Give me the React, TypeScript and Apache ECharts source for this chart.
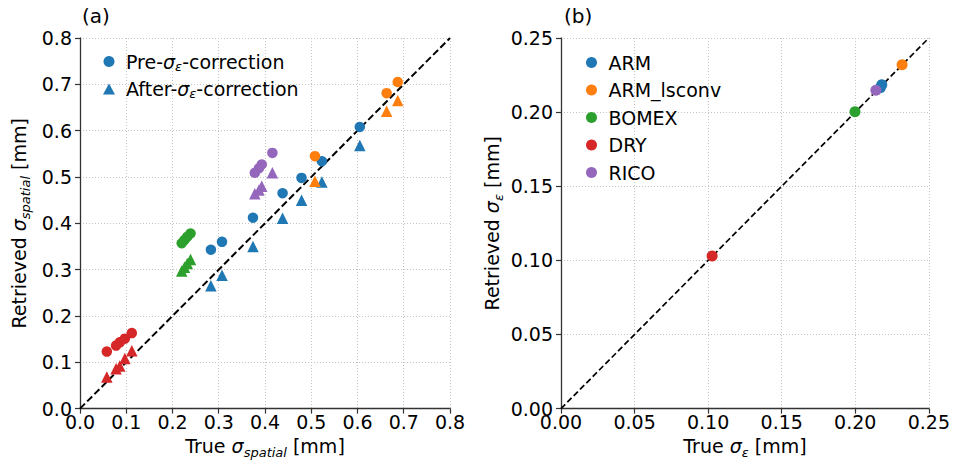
import React, { useEffect, useRef } from "react";
import * as echarts from "echarts";

// ---- Panel (a): true vs retrieved sigma_spatial [mm] ----
const armTrue = [0.283, 0.307, 0.374, 0.438, 0.479, 0.523, 0.605];
const armPre = [0.343, 0.36, 0.412, 0.465, 0.498, 0.534, 0.608];
const armAfter = [0.265, 0.288, 0.35, 0.411, 0.45, 0.489, 0.568];

const lsconvTrue = [0.508, 0.663, 0.687];
const lsconvPre = [0.545, 0.681, 0.705];
const lsconvAfter = [0.491, 0.642, 0.665];

const bomexTrue = [0.22, 0.226, 0.232, 0.239];
const bomexPre = [0.357, 0.364, 0.371, 0.378];
const bomexAfter = [0.297, 0.305, 0.313, 0.322];

const dryTrue = [0.058, 0.078, 0.086, 0.097, 0.112];
const dryPre = [0.123, 0.136, 0.143, 0.151, 0.163];
const dryAfter = [0.068, 0.086, 0.092, 0.108, 0.125];

const ricoTrue = [0.378, 0.387, 0.393, 0.416];
const ricoPre = [0.509, 0.519, 0.527, 0.552];
const ricoAfter = [0.464, 0.472, 0.48, 0.509];

// ---- Panel (b): true vs retrieved sigma_epsilon [mm] ----
const epsArmTrue = [0.217, 0.218];
const epsArmRet = [0.2165, 0.2185];
const epsLsconvTrue = [0.2318];
const epsLsconvRet = [0.232];
const epsBomexTrue = [0.1998];
const epsBomexRet = [0.2003];
const epsDryTrue = [0.1027];
const epsDryRet = [0.103];
const epsRicoTrue = [0.214];
const epsRicoRet = [0.2148];

const datasetNames = ["ARM", "ARM_lsconv", "BOMEX", "DRY", "RICO"];
const colors = ["#1f77b4", "#ff7f0e", "#2ca02c", "#d62728", "#9467bd"];

const FONT = "DejaVu Sans";
const FS = 19;
const SUB = 13;

const zip = (xs: number[], ys: number[]) => xs.map((x, i) => [x, ys[i]]);

const rich = {
  n: { fontSize: FS, color: "#000", fontFamily: FONT, lineHeight: 26 },
  s: { fontSize: FS, color: "#000", fontFamily: FONT, fontStyle: "italic", lineHeight: 26 },
  sub: {
    fontSize: SUB,
    color: "#000",
    fontFamily: FONT,
    fontStyle: "italic",
    lineHeight: 15,
    verticalAlign: "bottom",
  },
};

function makeAxis(gridIndex: number, max: number, interval: number, digits: number, name: string, nameGap: number, isY: boolean) {
  return {
    gridIndex,
    type: "value",
    min: 0,
    max,
    interval,
    name,
    nameLocation: "middle",
    nameGap,
    nameRotate: isY ? 90 : 0,
    nameTextStyle: { rich },
    axisLine: { show: true, onZero: false, lineStyle: { color: "#333", width: 1.3 } },
    axisTick: { show: true, length: 5, lineStyle: { color: "#333", width: 1.2 } },
    axisLabel: {
      fontSize: FS,
      color: "#000",
      fontFamily: FONT,
      margin: isY ? 8 : 4,
      formatter: (v: number) => v.toFixed(digits),
    },
    splitLine: { show: true, lineStyle: { color: "#c4c4c4", width: 1, type: [1, 2] } },
  };
}

export default function App() {
  const ref = useRef<HTMLDivElement>(null);

  useEffect(() => {
    document.body.style.margin = "0";
    const chart = echarts.init(ref.current!, null, { renderer: "svg" });

    const trueA = [armTrue, lsconvTrue, bomexTrue, dryTrue, ricoTrue];
    const preA = [armPre, lsconvPre, bomexPre, dryPre, ricoPre];
    const afterA = [armAfter, lsconvAfter, bomexAfter, dryAfter, ricoAfter];
    const trueB = [epsArmTrue, epsLsconvTrue, epsBomexTrue, epsDryTrue, epsRicoTrue];
    const retB = [epsArmRet, epsLsconvRet, epsBomexRet, epsDryRet, epsRicoRet];

    const series: any[] = [
      {
        type: "line",
        name: "one-to-one a",
        xAxisIndex: 0,
        yAxisIndex: 0,
        data: [[0, 0], [0.8, 0.8]],
        showSymbol: false,
        symbol: "none",
        lineStyle: { color: "#000", width: 2, type: [7, 3.2] },
        z: 1,
        silent: true,
      },
      {
        type: "line",
        name: "one-to-one b",
        xAxisIndex: 1,
        yAxisIndex: 1,
        data: [[0, 0], [0.25, 0.25]],
        showSymbol: false,
        symbol: "none",
        lineStyle: { color: "#000", width: 1.7, type: [6, 3] },
        z: 1,
        silent: true,
      },
    ];

    datasetNames.forEach((ds, i) => {
      series.push({
        type: "scatter",
        name: i === 0 ? "Pre" : ds + " pre",
        xAxisIndex: 0,
        yAxisIndex: 0,
        symbol: "circle",
        symbolSize: 10.5,
        itemStyle: { color: colors[i], opacity: 1 },
        data: zip(trueA[i], preA[i]),
        z: 3,
      });
      series.push({
        type: "scatter",
        name: i === 0 ? "After" : ds + " after",
        xAxisIndex: 0,
        yAxisIndex: 0,
        symbol: "triangle",
        symbolSize: 11.5,
        itemStyle: { color: colors[i], opacity: 1 },
        data: zip(trueA[i], afterA[i]),
        z: 3,
      });
    });
    datasetNames.forEach((ds, i) => {
      series.push({
        type: "scatter",
        name: ds,
        xAxisIndex: 1,
        yAxisIndex: 1,
        symbol: "circle",
        symbolSize: 11,
        itemStyle: { color: colors[i], opacity: 1 },
        data: zip(trueB[i], retB[i]),
        z: 3,
      });
    });

    const legendText = {
      rich: {
        n: { fontSize: FS, color: "#000", fontFamily: FONT, lineHeight: 22 },
        s: { fontSize: FS, color: "#000", fontFamily: FONT, fontStyle: "italic", lineHeight: 22 },
        sub: { fontSize: SUB, color: "#000", fontFamily: FONT, fontStyle: "italic", lineHeight: 12, verticalAlign: "bottom" },
        g: { width: 6, lineHeight: 22 },
      },
    };

    chart.setOption({
      animation: false,
      backgroundColor: "#fff",
      grid: [
        { left: 80, top: 38, width: 370, height: 372 },
        { left: 561, top: 38, width: 370, height: 372 },
      ],
      xAxis: [
        makeAxis(0, 0.8, 0.1, 1, "{n|True }{s|σ}{sub|spatial}{n| [mm]}", 21, false),
        makeAxis(1, 0.25, 0.05, 2, "{n|True }{s|σ}{sub|ε}{n| [mm]}", 21, false),
      ],
      yAxis: [
        makeAxis(0, 0.8, 0.1, 1, "{n|Retrieved }{s|σ}{sub|spatial}{n| [mm]}", 48, true),
        makeAxis(1, 0.25, 0.05, 2, "{n|Retrieved }{s|σ}{sub|ε}{n| [mm]}", 56, true),
      ],
      legend: [
        {
          data: [
            { name: "Pre", icon: "circle" },
            { name: "After", icon: "triangle" },
          ],
          orient: "vertical",
          left: 103,
          top: 52,
          padding: 0,
          itemWidth: 12,
          itemHeight: 11,
          itemGap: 7,
          selectedMode: false,
          textStyle: legendText,
          formatter: (name: string) =>
            name === "Pre"
              ? "{g|}{n|Pre-}{s|σ}{sub|ε}{n|-correction}"
              : "{g|}{n|After-}{s|σ}{sub|ε}{n|-correction}",
        },
        {
          data: datasetNames.map((n) => ({ name: n, icon: "circle" })),
          orient: "vertical",
          left: 586,
          top: 53,
          padding: 0,
          itemWidth: 12,
          itemHeight: 11,
          itemGap: 8.5,
          selectedMode: false,
          textStyle: legendText,
          formatter: (name: string) => "{g|}{n|" + name + "}",
        },
      ],
      graphic: [
        { type: "text", left: 82, top: 6, style: { text: "(a)", fontSize: 20, fontFamily: FONT, fill: "#000" } },
        { type: "text", left: 564, top: 6, style: { text: "(b)", fontSize: 20, fontFamily: FONT, fill: "#000" } },
      ],
      series,
    });

    return () => chart.dispose();
  }, []);

  return <div ref={ref} style={{ width: 953, height: 464 }} />;
}
